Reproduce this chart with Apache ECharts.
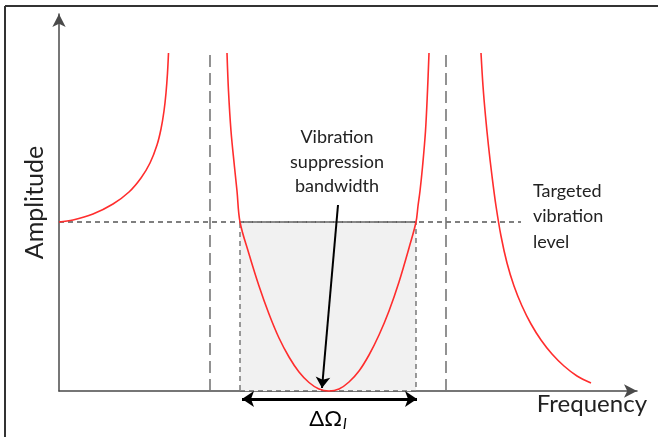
<!DOCTYPE html>
<html>
<head>
<meta charset="utf-8">
<script src="https://cdn.jsdelivr.net/npm/echarts@6/dist/echarts.min.js"></script>
<style>
html,body{margin:0;padding:0;background:#fff;}
#c{width:658px;height:437px;}
</style>
</head>
<body>
<div id="c"></div>
<script>
// Coordinates in "pixel-like" units (origin at axis corner)
var curveLeft = [[0,169],[14,171],[34,177],[54,187],[70,199],[82,213],[91,228],[98,246],[102,262],[105,280],[107,298],[108.5,318],[109.5,338]];
var curveMiddle = [[168,338],[169.5,300],[172,260],[175.5,224],[178,200],[181,169],[190,137],[200,105],[210,77],[220,53],[230,34],[240,19],[250,8.5],[260,2],[270,0],
                   [280,2],[290,9],[300,20],[310,36],[320,56],[330,80],[340,109],[350,143],[357,169],[359,185],[361,200],[363.5,224],[366.5,260],[368.5,300],[370,338]];
var curveRight = [[422,338],[424,305],[426.5,275],[429.5,245],[433,215],[437,185],[442,155],[448,128],[455,105],[463,85],[472,67],[482,51],[493,37],[505,25],[518,15],[532,8]];
var resonanceX = [151, 387];
var resonanceTop = 338;
var targetLevel = 169;
var targetLineEnd = 462;
var bandwidth = [181, 357];
var pointerArrow = [[279,186],[263,3]];
var bandArrowY = -8;
var bandArrow = [[183, bandArrowY],[358, bandArrowY]];
var xName = 'Frequency';
var yName = 'Amplitude';
var noteBandwidth = 'Vibration\nsuppression\nbandwidth';
var noteTarget = 'Targeted\nvibration\nlevel';

var FONT = 'Lato, "Open Sans", sans-serif';
var RED = '#ff2d2d';

var chart = echarts.init(document.getElementById('c'), null, {renderer:'canvas'});

function redCurve(d){
  return {type:'line', data:d, smooth:0.35, symbol:'none', clip:false,
    lineStyle:{color:RED, width:1.6}, z:5, silent:true};
}
function vDash(x){
  return {type:'line', data:[[x,0],[x,resonanceTop]], symbol:'none', clip:false,
    lineStyle:{color:'#777', width:1.6, type:[12,6]}, z:3, silent:true};
}

chart.setOption({
  animation:false,
  grid:{left:59, right:21, top:14, bottom:46},
  xAxis:{type:'value', min:0, max:578,
    axisLine:{show:true, lineStyle:{color:'#4a4a4a', width:1.5}, symbol:['none','arrow'], symbolSize:[10,13]},
    axisTick:{show:false}, axisLabel:{show:false}, splitLine:{show:false},
    name:xName, nameLocation:'end', nameGap:10,
    nameTextStyle:{fontFamily:FONT, fontSize:24, color:'#222', align:'right', verticalAlign:'top', padding:[1,0,0,0]}
  },
  yAxis:{type:'value', min:0, max:377,
    axisLine:{show:true, lineStyle:{color:'#4a4a4a', width:1.5}, symbol:['none','arrow'], symbolSize:[10,13]},
    axisTick:{show:false}, axisLabel:{show:false}, splitLine:{show:false},
    name:yName, nameLocation:'middle', nameGap:12, nameRotate:90,
    nameTextStyle:{fontFamily:FONT, fontSize:25, color:'#222'}
  },
  series:[
    {type:'line', data:[[0,targetLevel],[targetLineEnd,targetLevel]], symbol:'none', clip:false,
      lineStyle:{color:'#555', width:1.3, type:[5,4]}, z:3, silent:true,
      markArea:{silent:true, itemStyle:{color:'#f1f1f1', borderColor:'#666', borderWidth:1.3, borderType:[5,4]},
        data:[[{coord:[bandwidth[0],0]},{coord:[bandwidth[1],targetLevel]}]]}
    },
    vDash(resonanceX[0]),
    vDash(resonanceX[1]),
    redCurve(curveLeft),
    redCurve(curveMiddle),
    redCurve(curveRight),
    {type:'lines', coordinateSystem:'cartesian2d', clip:false, z:6, silent:true,
      symbol:['none','arrow'], symbolSize:11,
      lineStyle:{color:'#000', width:2, opacity:1},
      data:[{coords:pointerArrow}]},
    {type:'lines', coordinateSystem:'cartesian2d', clip:false, z:6, silent:true,
      symbol:['arrow','arrow'], symbolSize:12,
      lineStyle:{color:'#000', width:3, opacity:1},
      data:[{coords:bandArrow}]}
  ],
  graphic:[
    {type:'line', shape:{x1:5, y1:6, x2:658, y2:6}, style:{stroke:'#333', lineWidth:2}, silent:true},
    {type:'line', shape:{x1:5, y1:6, x2:5, y2:437}, style:{stroke:'#333', lineWidth:2}, silent:true},
    {type:'text', x:337, y:125, style:{text:noteBandwidth, font:'18px '+FONT, fill:'#222', textAlign:'center', textVerticalAlign:'top', lineHeight:24.5}, silent:true},
    {type:'text', x:533, y:178, style:{text:noteTarget, font:'18px '+FONT, fill:'#222', textAlign:'left', textVerticalAlign:'top', lineHeight:25.5}, silent:true},
    {type:'text', x:328, y:405, style:{text:'{a|ΔΩ}{b|l}', textAlign:'center', textVerticalAlign:'top',
      rich:{a:{fontFamily:FONT, fontSize:22, color:'#222'},
            b:{fontFamily:FONT, fontSize:16, fontStyle:'italic', color:'#222', padding:[11,0,0,1]}}}, silent:true}
  ]
});
</script>
</body>
</html>
